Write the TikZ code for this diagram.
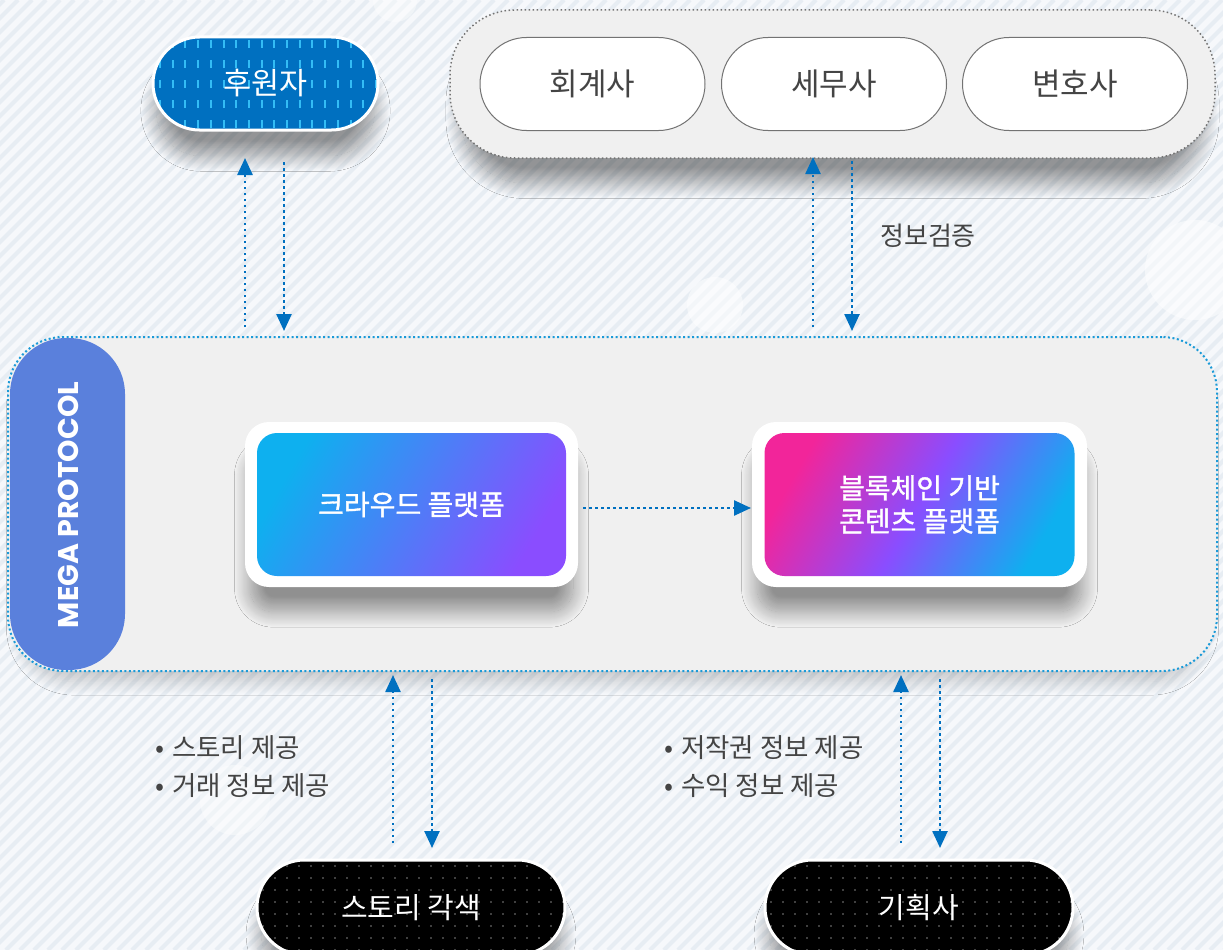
\documentclass[tikz,border=0pt]{standalone}
\usepackage{fontspec}
\setmainfont{Noto Sans CJK KR}
\newfontfamily\krb[FakeBold=1.2]{Noto Sans CJK KR}
\newfontfamily\pop{Poppins}
\usetikzlibrary{arrows.meta,shadows.blur,shapes.misc}
\definecolor{bgc}{HTML}{F6F8FB}
\definecolor{stripec}{HTML}{E7EDF3}
\definecolor{arrc}{HTML}{0070C0}
\definecolor{dotb}{HTML}{1A9AD8}
\definecolor{megac}{HTML}{5A80DC}
\definecolor{hub}{HTML}{0070C0}
\definecolor{hudash}{HTML}{33BDF5}
\definecolor{txtg}{HTML}{444444}
\definecolor{cyanc}{HTML}{0EB0EF}
\definecolor{purpc}{HTML}{8A4DFF}
\definecolor{pinkc}{HTML}{F2259A}
\definecolor{contc}{HTML}{F0F0F0}
\pgfdeclarehorizontalshading{crowdgrad}{100bp}{color(0bp)=(cyanc); color(25bp)=(cyanc); color(75bp)=(purpc); color(100bp)=(purpc)}
\pgfdeclarehorizontalshading{bcgrad}{100bp}{color(0bp)=(pinkc); color(25bp)=(pinkc); color(50bp)=(purpc); color(75bp)=(cyanc); color(100bp)=(cyanc)}
\tikzset{
  shad/.style={blur shadow={shadow xshift=0pt, shadow yshift=-28pt, shadow scale=0.97, shadow blur radius=16pt, shadow blur steps=24, shadow opacity=40}},
  pillw/.style={shape=rounded rectangle, draw=black!55, line width=1pt, fill=white, minimum width=225pt, minimum height=93pt, inner sep=0pt, text=txtg, font=\fontsize{31}{36}\selectfont},
  pillbg/.style={shape=rounded rectangle, minimum height=93pt, inner sep=0pt, shad},
  pilltxt/.style={shape=rounded rectangle, draw=white, line width=3pt, minimum height=93pt, inner sep=0pt, text=white},
  outerbox/.style={draw=none, fill=white, rounded corners=24pt, minimum width=333pt, minimum height=165pt, inner sep=0pt, shad},
  innerbox/.style={rounded corners=20pt, minimum width=309pt, minimum height=143pt, inner sep=0pt, text=white, align=center, font=\krb\fontsize{28}{33}\selectfont},
  arr/.style={draw=arrc, line width=2.5pt, dash pattern=on 2.5pt off 3.5pt, -{Triangle[width=15pt,length=17pt]}},
  lbl/.style={text=txtg, font=\fontsize{26.5}{38}\selectfont, inner sep=0pt}
}
\begin{document}
\begin{tikzpicture}[x=1pt,y=-1pt]
\useasboundingbox (0,0) rectangle (1223,950);
% background
\fill[bgc] (0,0) rectangle (1223,950);
\begin{scope}
\clip (0,0) rectangle (1223,950);
\foreach \i in {-960,-946,...,1240} \draw[stripec, line width=4pt] (\i,950) -- ++(950,-950);
\fill[white, opacity=0.5] (715,305) circle (28);
\fill[white, opacity=0.5] (1195,270) circle (50);
\fill[white, opacity=0.4] (235,800) circle (35);
\fill[white, opacity=0.4] (395,0) circle (22);
\end{scope}

% top group
\node[draw=black!55, line width=1.5pt, dash pattern=on 1.5pt off 2.5pt, fill=contc, rounded corners=65pt, minimum width=765pt, minimum height=148pt, inner sep=0pt, shad] (grp) at (832.5,84) {};
\node[pillw] (hoe) at (592.5,84) {회계사};
\node[pillw] (semu) at (834,84) {세무사};
\node[pillw] (byeon) at (1075,84) {변호사};

% sponsor
\node[pillbg, fill=hub, minimum width=225pt] (hubg) at (265.5,83.5) {};
\begin{scope}
\clip[rounded corners=46.5pt] (153,37) rectangle (378,130);
\foreach \x in {160,172.7,...,380} \foreach \y in {40,60,...,130} \draw[hudash, line width=2pt] (\x,\y) -- (\x,\y+8);
\end{scope}
\node[pilltxt, minimum width=225pt, font=\fontsize{30.5}{34}\selectfont] (hu) at (265.5,83.5) {후원자};

% main container
\node[draw=dotb, line width=2pt, dash pattern=on 2pt off 2.5pt, fill=contc, rounded corners=55pt, minimum width=1209pt, minimum height=334pt, inner sep=0pt, blur shadow={shadow xshift=0pt, shadow yshift=-14pt, shadow scale=0.98, shadow blur radius=14pt, shadow blur steps=20, shadow opacity=20}] (cont) at (612.5,504) {};
\node[fill=megac, rounded corners=56pt, minimum width=115pt, minimum height=332pt, inner sep=0pt] (mega) at (67.5,504) {};
\node[rotate=90, text=white, font=\pop\bfseries\fontsize{28.5}{32}\selectfont] (megat) at (68,505) {MEGA PROTOCOL};

% platforms
\node[outerbox] (crowdo) at (411.5,504.5) {};
\node[innerbox, shading=crowdgrad, shading angle=-30] (crowd) at (411.5,504.5) {크라우드 플랫폼};
\node[outerbox, minimum width=335pt] (bco) at (919.5,504.5) {};
\node[innerbox, minimum width=310pt, shading=bcgrad, shading angle=-30] (bc) at (919.5,504.5) {블록체인 기반\\콘텐츠 플랫폼};

% bottom nodes
\node[pillbg, fill=black, minimum width=308pt, minimum height=95pt] (storybg) at (411,907.5) {};
\node[pillbg, fill=black, minimum width=308pt, minimum height=95pt] (planbg) at (919,907.5) {};
\begin{scope}
\clip[rounded corners=47.5pt] (257,860) rectangle (565,955);
\foreach \x in {263,275,...,565} \foreach \y in {866,878,...,950} \fill[black!50] (\x,\y) circle (0.9);
\end{scope}
\begin{scope}
\clip[rounded corners=47.5pt] (765,860) rectangle (1073,955);
\foreach \x in {771,783,...,1073} \foreach \y in {866,878,...,950} \fill[black!50] (\x,\y) circle (0.9);
\end{scope}
\node[pilltxt, minimum width=308pt, minimum height=95pt, font=\fontsize{29}{34}\selectfont] (story) at (411,907.5) {스토리 각색};
\node[pilltxt, minimum width=308pt, minimum height=95pt, font=\fontsize{29}{34}\selectfont] (plan) at (919,907.5) {기획사};

% coordinates for arrow ends
\coordinate (a1b) at (245,327); \coordinate (a1t) at (245,158);
\coordinate (a2t) at (284,162); \coordinate (a2b) at (284,331);
\coordinate (a3b) at (813,327); \coordinate (a3t) at (813,157);
\coordinate (a4t) at (852,161); \coordinate (a4b) at (852,331);
\coordinate (a5b) at (393,843); \coordinate (a5t) at (393,675);
\coordinate (a6t) at (432,679); \coordinate (a6b) at (432,848);
\coordinate (a7b) at (901,843); \coordinate (a7t) at (901,675);
\coordinate (a8t) at (940,679); \coordinate (a8b) at (940,848);
\coordinate (mA) at (583,508); \coordinate (mB) at (751,508);

\draw[arr] (a1b) -- (a1t);
\draw[arr] (a2t) -- (a2b);
\draw[arr] (a3b) -- (a3t);
\draw[arr] (a4t) -- (a4b);
\draw[arr] (a5b) -- (a5t);
\draw[arr] (a6t) -- (a6b);
\draw[arr] (a7b) -- (a7t);
\draw[arr] (a8t) -- (a8b);
\draw[arr] (mA) -- (mB);

% labels
\node[lbl, font=\fontsize{26}{30}\selectfont] (verify) at (928,236) {정보검증};
\node[lbl, anchor=west] (l1) at (155,748) {•\hspace{0.3em}스토리 제공};
\node[lbl, anchor=west] (l2) at (155,786) {•\hspace{0.3em}거래 정보 제공};
\node[lbl, anchor=west] (l3) at (664,748) {•\hspace{0.3em}저작권 정보 제공};
\node[lbl, anchor=west] (l4) at (664,786) {•\hspace{0.3em}수익 정보 제공};
\end{tikzpicture}
\end{document}
